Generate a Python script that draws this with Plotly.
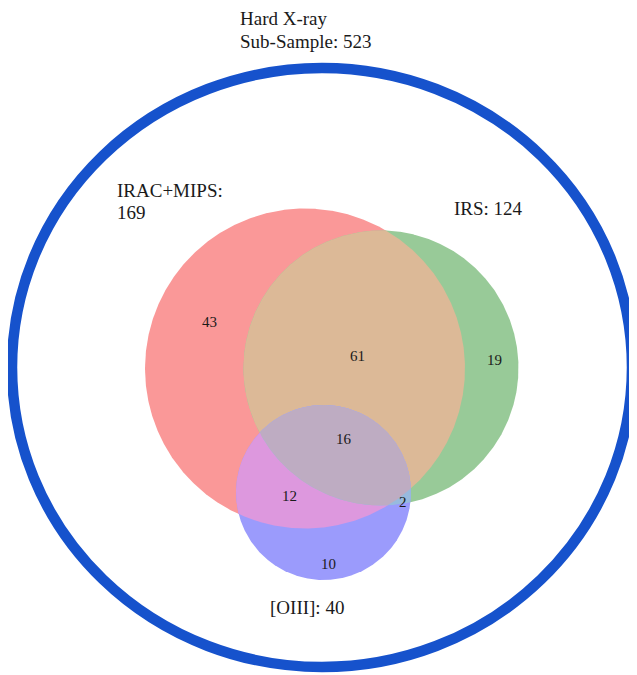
import numpy as np
import plotly.graph_objects as go

# ---- data ----
parent_lines = ["Hard X-ray", "Sub-Sample"]
parent_total = 523
set_names = ["IRAC+MIPS", "IRS", "[OIII]"]
set_totals = [169, 124, 40]
region_keys = ["100", "010", "001", "110", "101", "011", "111"]
region_counts = [43, 19, 10, 61, 12, 2, 16]

# ---- layout / geometry (pixel space of the 637x675 window) ----
W, H = 637, 675
OFF = 8  # page body margin
circles = [((305.0, 368.5), 160.0), ((381.0, 368.0), 137.5), ((323.5, 492.5), 87.5)]
region_colors = {
    "100": "rgb(250,152,152)",
    "010": "rgb(152,202,152)",
    "001": "rgb(155,155,252)",
    "110": "rgb(220,185,151)",
    "101": "rgb(221,152,222)",
    "011": "rgb(152,186,222)",
    "111": "rgb(190,172,194)",
}
label_pos = {
    "100": (209, 322), "010": (494, 360), "001": (328, 564),
    "110": (357, 356), "101": (289, 496), "011": (403, 502), "111": (344, 439),
}
FONT = "Liberation Serif"
TEXT_COLOR = "#1a1a1a"


def circle_pts(c, r, n=1440):
    t = np.linspace(0, 2 * np.pi, n, endpoint=False)
    return np.c_[c[0] + r * np.cos(t), c[1] + r * np.sin(t)]


def intersection(idx):
    pts = []
    for i in idx:
        p = circle_pts(*circles[i])
        ok = np.ones(len(p), bool)
        for j in idx:
            if j == i:
                continue
            (cx, cy), r = circles[j]
            ok &= (p[:, 0] - cx) ** 2 + (p[:, 1] - cy) ** 2 <= r * r + 1e-6
        pts.append(p[ok])
    pts = np.vstack(pts)
    m = pts.mean(axis=0)
    ang = np.arctan2(pts[:, 1] - m[1], pts[:, 0] - m[0])
    pts = pts[np.argsort(ang)]
    return np.vstack([pts, pts[:1]])


fig = go.Figure()
layers = [("100", [0]), ("010", [1]), ("110", [0, 1]), ("001", [2]),
          ("101", [0, 2]), ("011", [1, 2]), ("111", [0, 1, 2])]
for key, idx in layers:
    poly = intersection(idx)
    fig.add_trace(go.Scatter(x=poly[:, 0], y=poly[:, 1], mode="lines", fill="toself",
                             fillcolor=region_colors[key], line=dict(width=0, color=region_colors[key]),
                             hoverinfo="skip", showlegend=False))

# outer parent set
fig.add_shape(type="circle", xref="x", yref="y", x0=12, x1=632, y0=68, y1=667,
              line=dict(color="#1652CC", width=10.5), fillcolor="rgba(0,0,0,0)")

ann = []
num_font = dict(family=FONT, size=15, color=TEXT_COLOR)
for key, cnt in zip(region_keys, region_counts):
    x, y = label_pos[key]
    ann.append(dict(x=x, y=y, text=str(cnt), showarrow=False, xanchor="center", yanchor="middle",
                    font=num_font))

big = dict(family=FONT, size=19, color=TEXT_COLOR)
ann.append(dict(x=238, y=18, text=parent_lines[0], showarrow=False, xanchor="left", yanchor="middle", font=big))
ann.append(dict(x=238, y=41, text=f"{parent_lines[1]}: {parent_total}", showarrow=False,
                xanchor="left", yanchor="middle", font=big))
ann.append(dict(x=115, y=190, text=f"{set_names[0]}:", showarrow=False, xanchor="left", yanchor="middle", font=big))
ann.append(dict(x=115, y=212, text=f"{set_totals[0]}", showarrow=False, xanchor="left", yanchor="middle", font=big))
ann.append(dict(x=452, y=208, text=f"{set_names[1]}: {set_totals[1]}", showarrow=False,
                xanchor="left", yanchor="middle", font=big))
ann.append(dict(x=307, y=607, text=f"{set_names[2]}: {set_totals[2]}", showarrow=False,
                xanchor="center", yanchor="middle", font=big))

fig.update_layout(
    width=W - OFF, height=H - OFF, margin=dict(l=0, r=0, t=0, b=0, pad=0),
    paper_bgcolor="white", plot_bgcolor="white",
    xaxis=dict(range=[OFF, W], visible=False, fixedrange=True),
    yaxis=dict(range=[H, OFF], visible=False, fixedrange=True),
    annotations=ann, showlegend=False,
)
fig.write_html("out.html")
